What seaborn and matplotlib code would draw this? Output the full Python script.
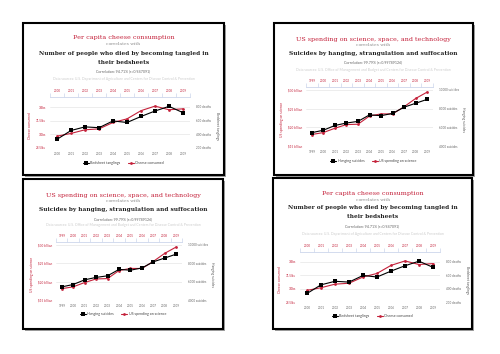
import matplotlib
matplotlib.use('Agg')
import matplotlib.pyplot as plt
import seaborn as sns
from matplotlib.patches import Rectangle

# cheese vs bedsheet deaths
cheese_years = [2000, 2001, 2002, 2003, 2004, 2005, 2006, 2007, 2008, 2009]
cheese_lbs = [29.8, 30.1, 30.5, 30.6, 31.3, 31.7, 32.6, 33.1, 32.7, 32.8]
bedsheet_deaths = [327, 456, 509, 497, 596, 573, 661, 741, 809, 717]
cheese_ticks = [28.5, 30, 31.5, 33]
cheese_tick_labels = ['28.5lbs', '30lbs', '31.5lbs', '33lbs']
death_ticks = [200, 400, 600, 800]
death_tick_labels = ['200 deaths', '400 deaths', '600 deaths', '800 deaths']

# science spending vs hanging suicides
science_years = [1999, 2000, 2001, 2002, 2003, 2004, 2005, 2006, 2007, 2008, 2009]
science_spending = [18.079, 18.594, 19.753, 20.734, 20.831, 23.029, 23.597, 23.584, 25.525, 27.731, 29.449]
hanging_suicides = [5427, 5688, 6198, 6462, 6635, 7336, 7248, 7491, 8161, 8578, 9000]
spending_ticks = [15, 20, 25, 30]
spending_tick_labels = ['$15 billion', '$20 billion', '$25 billion', '$30 billion']
suicide_ticks = [4000, 6000, 8000, 10000]
suicide_tick_labels = ['4000 suicides', '6000 suicides', '8000 suicides', '10000 suicides']

cheese = dict(
    title='Per capita cheese consumption',
    heading=['Number of people who died by becoming tangled in', 'their bedsheets'],
    corr='Correlation: 94.71% (r=0.947091)',
    source='Data sources: U.S. Department of Agriculture and Centers for Disease Control & Prevention',
    years=cheese_years, left=cheese_lbs, right=bedsheet_deaths,
    left_name='Cheese consumed', right_name='Bedsheet tanglings',
    left_ticks=cheese_ticks, left_labels=cheese_tick_labels,
    right_ticks=death_ticks, right_labels=death_tick_labels,
    left_lim=(28.5, 34.1), right_lim=(200, 946),
    lab_off=(20, 27),
)
science = dict(
    title='US spending on science, space, and technology',
    heading=['Suicides by hanging, strangulation and suffocation'],
    corr='Correlation: 99.79% (r=0.99789126)',
    source='Data sources: U.S. Office of Management and Budget and Centers for Disease Control & Prevention',
    years=science_years, left=science_spending, right=hanging_suicides,
    left_name='US spending on science', right_name='Hanging suicides',
    left_ticks=spending_ticks, left_labels=spending_tick_labels,
    right_ticks=suicide_ticks, right_labels=suicide_tick_labels,
    left_lim=(15, 30.8), right_lim=(4000, 10320),
    lab_off=(24, 30),
)

W, H = 500, 354
RED = '#c4213a'

sns.set_style('white')
plt.rcParams['font.family'] = ['Lato', 'DejaVu Sans']

fig = plt.figure(figsize=(5, 3.54), dpi=100)


def fx(px):
    return px / W


def fy(py):
    return 1 - py / H


def draw_card(info, box, ys, axbox, leg_y):
    l, t, r, b = box
    fig.add_artist(Rectangle((fx(l + 2), fy(b + 2)), (r - l) / W, (b - t) / H, transform=fig.transFigure,
                             facecolor='#a0a0a0', edgecolor='none', zorder=-3))
    fig.add_artist(Rectangle((fx(l), fy(b)), (r - l) / W, (b - t) / H, transform=fig.transFigure,
                             facecolor='white', edgecolor='black', lw=1.5, zorder=-2))
    cx = fx((l + r) / 2)
    fig.text(cx, fy(ys[0]), info['title'], color=RED, family='DejaVu Serif', size=4.6, ha='center', va='center')
    fig.text(cx, fy(ys[1]), 'correlates with', color='#8a8a8a', family='DejaVu Serif', size=3.2, ha='center', va='center')
    for line, y in zip(info['heading'], ys[2]):
        fig.text(cx, fy(y), line, color='#222222', family='DejaVu Serif', weight='bold', size=4.2,
                 ha='center', va='center')
    fig.text(cx, fy(ys[3]), info['corr'], color='#666666', size=2.6, ha='center', va='center')
    fig.text(cx, fy(ys[4]), info['source'], color='#cccccc', size=2.5, ha='center', va='center')

    al, at, ar, ab = axbox
    ax = fig.add_axes([fx(al), fy(ab), (ar - al) / W, (ab - at) / H])
    ax.patch.set_alpha(0)
    ax2 = ax.twinx()
    sns.lineplot(x=info['years'], y=info['left'], ax=ax, color=RED, marker='o', markersize=2,
                 markeredgewidth=0, lw=0.8, label=info['left_name'], legend=False)
    sns.lineplot(x=info['years'], y=info['right'], ax=ax2, color='black', marker='s', markersize=2.2,
                 markeredgewidth=0, lw=0.8, label=info['right_name'], legend=False)

    years = info['years']
    ax.set_xlim(years[0] - 0.5, years[-1] + 0.5)
    ax.set_xticks(years)
    ax.set_xticklabels([str(y) for y in years])
    ax.set_xticks([y - 0.5 for y in years] + [years[-1] + 0.5], minor=True)
    ax.tick_params(axis='x', which='major', length=0, top=True, labeltop=True, bottom=False,
                   labelbottom=True, labelsize=2.2, labelcolor='#666666', pad=3)
    ax.tick_params(axis='x', which='minor', length=3, width=0.5, color='#ccd6eb', top=True, bottom=False)
    for tk in ax.xaxis.get_major_ticks():
        tk.label2.set_color(RED)

    ax.set_ylim(info['left_lim'])
    ax.set_yticks(info['left_ticks'])
    ax.set_yticklabels(info['left_labels'])
    ax.tick_params(axis='y', length=0, labelsize=2.2, labelcolor=RED, pad=3)
    ax.yaxis.grid(True, color='#e6e6e6', lw=0.5)

    ax2.set_ylim(info['right_lim'])
    ax2.set_yticks(info['right_ticks'])
    ax2.set_yticklabels(info['right_labels'])
    ax2.tick_params(axis='y', length=0, labelsize=2.2, labelcolor='#666666', pad=4)

    for a in (ax, ax2):
        a.set_xlabel('')
        a.set_ylabel('')
        for s in a.spines.values():
            s.set_visible(False)
    ax.spines['top'].set_visible(True)
    ax.spines['top'].set_color('#ccd6eb')
    ax.spines['top'].set_linewidth(0.6)

    lo, ro = info['lab_off']
    fig.text(fx(al - lo), fy((at + ab) / 2 + 3), info['left_name'], color=RED, size=2.4, rotation=90,
             ha='center', va='center')
    fig.text(fx(ar + ro), fy((at + ab) / 2 + 3), info['right_name'], color='#555555', size=2.4, rotation=270,
             ha='center', va='center')

    h1, l1 = ax.get_legend_handles_labels()
    h2, l2 = ax2.get_legend_handles_labels()
    fig.legend(h2 + h1, l2 + l1, loc='center', bbox_to_anchor=(cx, fy(leg_y)), ncol=2, frameon=False,
               fontsize=2.6, handlelength=1.6, handletextpad=0.5, columnspacing=2.0, labelcolor='#444444')


draw_card(cheese, (23, 23, 224, 175), [38, 44, [53, 62], 71, 79], (50, 97, 190, 148), 163)
draw_card(science, (274, 23, 473, 175), [39, 45, [53], 62, 70], (306, 87, 433, 146), 161)
draw_card(science, (23, 179, 223, 329), [195, 201, [210], 219, 225], (56, 242, 182, 300), 314)
draw_card(cheese, (273, 178, 472, 329), [193, 200, [208, 217], 226, 234], (300, 252, 440, 302), 316)

fig.savefig('out.png', dpi=100, facecolor='white')
